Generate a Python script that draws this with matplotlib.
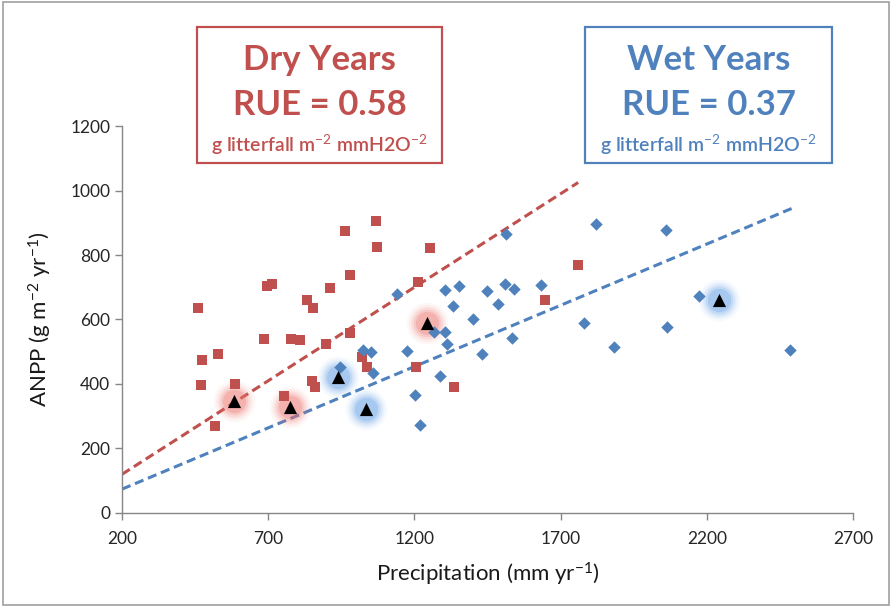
import numpy as np
import matplotlib
matplotlib.use("Agg")
import matplotlib.pyplot as plt
from matplotlib.patches import Rectangle

plt.rcParams['font.family'] = ['Lato', 'DejaVu Sans']
plt.rcParams['mathtext.fontset'] = 'custom'
plt.rcParams['mathtext.rm'] = 'Lato'
plt.rcParams['mathtext.it'] = 'Lato:italic'
plt.rcParams['mathtext.bf'] = 'Lato:bold'

RED = '#C0504D'
BLUE = '#4F81BD'

# dry years (red squares)
dry_x = [459, 475, 470, 529, 585, 519, 685, 695, 714, 777, 810, 833, 853, 912,
         962, 1068, 1071, 980, 979, 899, 1021, 1039, 851, 859, 754, 1211, 1205,
         1253, 1334, 1648, 1759]
dry_y = [635, 474, 397, 492, 401, 271, 540, 705, 711, 540, 537, 661, 635, 699,
         875, 906, 826, 739, 558, 525, 485, 454, 410, 391, 364, 717, 454,
         823, 391, 661, 769]

# wet years (blue diamonds)
wet_x = [1139, 946, 1025, 1053, 1057, 1176, 1202, 1218,
         1513, 1306, 1354, 1449, 1511, 1542, 1634, 1331, 1486, 1401, 1268, 1306,
         1310, 1535, 1430, 1287, 1822, 2062, 1781, 1881, 2065, 2173, 2483]
wet_y = [679, 454, 504, 498, 435, 501, 367, 273,
         865, 691, 705, 687, 709, 695, 708, 642, 648, 602, 561, 561,
         524, 544, 494, 424, 896, 877, 590, 514, 578, 672, 506]

# highlighted site means (black triangles)
dry_tri_x = [583, 775, 1242]
dry_tri_y = [348, 330, 590]
wet_tri_x = [938, 1034, 2242]
wet_tri_y = [421, 322, 660]

# trend lines: slope, intercept, x range
dry_fit = (0.58, 4, 200, 1760)
wet_fit = (0.38, -2, 200, 2494)

fig = plt.figure(figsize=(8.92, 6.07), dpi=100)
ax = fig.add_axes([0.1368, 0.1549, 0.8195, 0.6375])

# soft glow behind the triangles
for tx, ty, gc in [(dry_tri_x, dry_tri_y, '#EE6F6A'), (wet_tri_x, wet_tri_y, '#5A9BE6')]:
    for s, a in [(900, 0.05), (700, 0.08), (540, 0.12), (400, 0.17), (280, 0.25)]:
        ax.scatter(tx, ty, marker='o', s=s, color=gc, alpha=a, linewidths=0, zorder=3)

ax.scatter(dry_x, dry_y, marker='s', s=45, color=RED, linewidths=0, zorder=4)
ax.scatter(wet_x, wet_y, marker='D', s=40, color=BLUE, linewidths=0, zorder=4)
ax.scatter(dry_tri_x + wet_tri_x, dry_tri_y + wet_tri_y, marker='^', s=90,
           color='black', linewidths=0, zorder=5)

for (m, b, x0, x1), c in [(dry_fit, RED), (wet_fit, BLUE)]:
    xs = np.array([x0, x1])
    ax.plot(xs, m * xs + b, color=c, linestyle=(0, (3, 1.6)), linewidth=2.2, zorder=2)

ax.set_xlim(200, 2700)
ax.set_ylim(0, 1200)
ax.set_xticks(np.arange(200, 2701, 500))
ax.set_yticks(np.arange(0, 1201, 200))
for side in ['top', 'right']:
    ax.spines[side].set_visible(False)
for side in ['left', 'bottom']:
    ax.spines[side].set_color('#868686')
    ax.spines[side].set_linewidth(1.0)
ax.tick_params(colors='#868686', labelcolor='#262626', labelsize=12.5, length=5, width=1)
ax.tick_params(axis='x', pad=8)
ax.set_xlabel('Precipitation (mm yr$^{-1}$)', fontsize=16, color='#1a1a1a', labelpad=10)
ax.set_ylabel('ANPP (g m$^{-2}$ yr$^{-1}$)', fontsize=16, color='#1a1a1a', labelpad=12)

# text boxes
def rue_box(x0, y0, w, h, c, title, rue):
    fig.patches.append(Rectangle((x0 / 892, 1 - (y0 + h) / 607), w / 892, h / 607,
                                 transform=fig.transFigure, fill=False, edgecolor=c, linewidth=1.6))
    cx = (x0 + w / 2) / 892
    fig.text(cx, 1 - (y0 + 33) / 607, title, color=c, fontsize=25, fontweight='bold',
             ha='center', va='center')
    fig.text(cx, 1 - (y0 + 78) / 607, rue, color=c, fontsize=25, fontweight='bold',
             ha='center', va='center')
    fig.text(cx, 1 - (y0 + 118) / 607, r'g litterfall m$^{-2}$ mmH2O$^{-2}$', color=c,
             fontsize=14, fontweight='semibold', ha='center', va='center')

rue_box(197, 27, 245, 136, RED, 'Dry Years', 'RUE = 0.58')
rue_box(585, 27, 247, 136, BLUE, 'Wet Years', 'RUE = 0.37')

# chart border
fig.patches.append(Rectangle((0.003, 0.003), 0.994, 0.994, transform=fig.transFigure,
                             fill=False, edgecolor='#A0A0A0', linewidth=1.2))

fig.savefig('out.png', dpi=100)
